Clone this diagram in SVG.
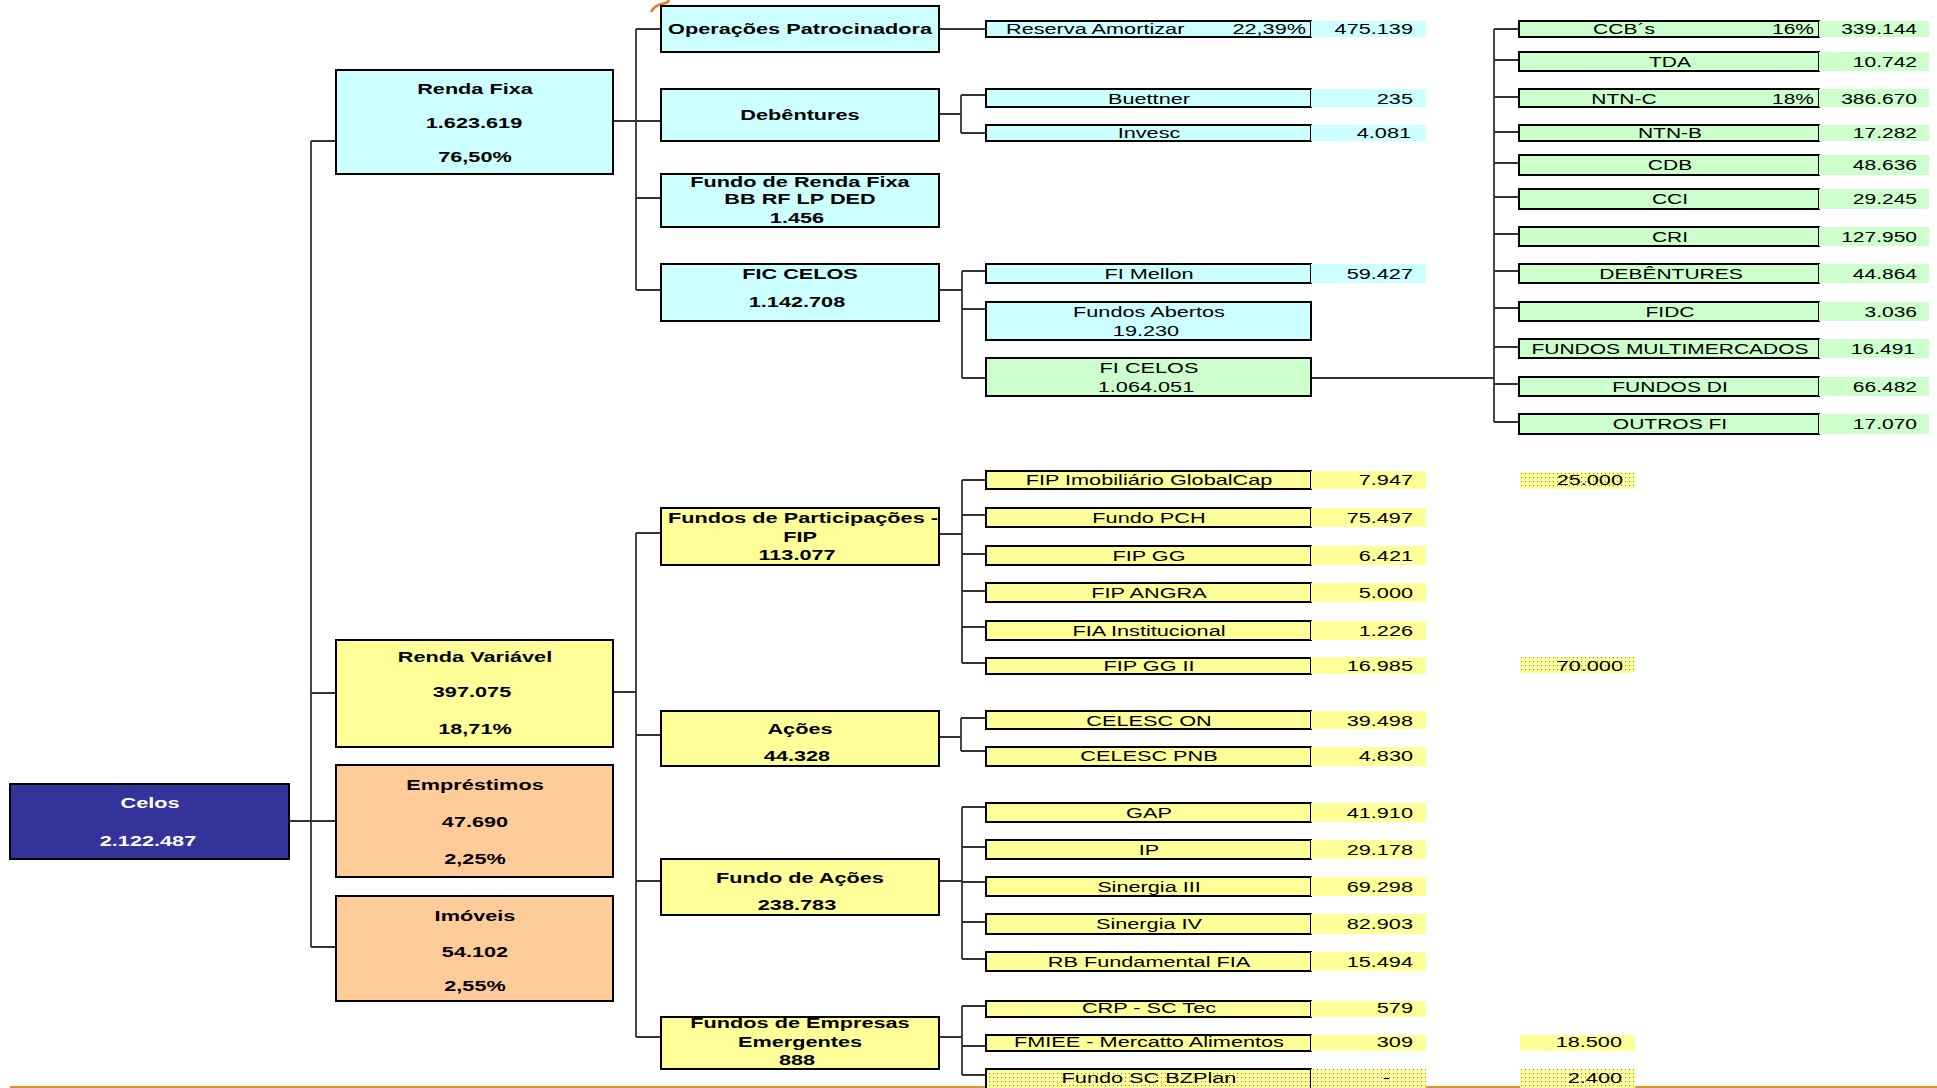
<svg xmlns="http://www.w3.org/2000/svg" width="1937" height="1088" viewBox="0 0 1937 1088">
<style>
.t{font-family:"Liberation Sans",Arial,Helvetica,sans-serif;font-size:15.5px;fill:#000}
.s{font-size:15px}
.b{font-weight:bold}
.m{text-anchor:middle}
.e{text-anchor:end}
.w{fill:#fff}
.bx{stroke:#000;stroke-width:2}
.cy{fill:#CCFFFF}.gr{fill:#CCFFCC}.ye{fill:#FFFF99}.or{fill:#FFCC99}.nv{fill:#333399}
.dt{fill:url(#dots)}
#connectors path{fill:none;stroke:#333;stroke-width:1.8}
</style>
<defs>
<pattern id="dots" width="4" height="4" patternUnits="userSpaceOnUse"><rect width="4" height="4" fill="#FFFF99"/><rect x="1" y="1" width="1" height="1" fill="#777"/></pattern>
</defs>
<rect width="1937" height="1088" fill="#fff"/>

<g id="connectors">
<path d="M289 821H311M311 141V947M311 141H336M311 693H336M311 821H336M311 947H336"/>
<path d="M613 121H636M636 29V290M636 29H661M636 121H661M636 198H661M636 290H661"/>
<path d="M613 692H636M636 533V1037M636 533H661M636 735H661M636 881H661M636 1037H661"/>
<path d="M939 29H986"/>
<path d="M939 114H961M961 95V133M961 95H986M961 133H986"/>
<path d="M939 290H962M962 271V378M962 271H986M962 309H986M962 378H986"/>
<path d="M1311 378H1494M1494 29V422M1494 29H1519M1494 60H1519M1494 97H1519M1494 132H1519M1494 163H1519M1494 197H1519M1494 234H1519M1494 271H1519M1494 308H1519M1494 347H1519M1494 384H1519M1494 422H1519"/>
<path d="M939 534H962M962 480V663M962 480H986M962 515H986M962 554H986M962 591H986M962 627H986M962 663H986"/>
<path d="M939 737H961M961 718V751M961 718H986M961 751H986"/>
<path d="M939 881H962M962 807V959M962 807H986M962 847H986M962 882H986M962 922H986M962 959H986"/>
<path d="M939 1037H962M962 1006V1075M962 1006H986M962 1046H986M962 1075H986"/>
</g>

<path d="M651 12Q655 5 662 4Q668 3 669 0" fill="none" stroke="#F07020" stroke-width="2.5"/>
<path d="M10 1087H1937" stroke="#D9952B" stroke-width="2"/>

<g id="n-celos"><rect class="bx nv" x="10" y="784" width="279" height="75"/>
<text class="t b m w" transform="translate(150 808) scale(1.4 1)">Celos</text>
<text class="t b m w" transform="translate(148 846) scale(1.4 1)">2.122.487</text></g>

<g id="n-rf"><rect class="bx cy" x="336" y="70" width="277" height="104"/>
<text class="t b m" transform="translate(475 94) scale(1.4 1)">Renda Fixa</text>
<text class="t b m" transform="translate(474 128) scale(1.4 1)">1.623.619</text>
<text class="t b m" transform="translate(475 162) scale(1.4 1)">76,50%</text></g>

<g id="n-rv"><rect class="bx ye" x="336" y="640" width="277" height="107"/>
<text class="t b m" transform="translate(475 662) scale(1.4 1)">Renda Variável</text>
<text class="t b m" transform="translate(472 697) scale(1.4 1)">397.075</text>
<text class="t b m" transform="translate(475 734) scale(1.4 1)">18,71%</text></g>

<g id="n-emp"><rect class="bx or" x="336" y="765" width="277" height="112"/>
<text class="t b m" transform="translate(475 790) scale(1.4 1)">Empréstimos</text>
<text class="t b m" transform="translate(475 827) scale(1.4 1)">47.690</text>
<text class="t b m" transform="translate(475 864) scale(1.4 1)">2,25%</text></g>

<g id="n-imo"><rect class="bx or" x="336" y="896" width="277" height="105"/>
<text class="t b m" transform="translate(475 921) scale(1.4 1)">Imóveis</text>
<text class="t b m" transform="translate(475 957) scale(1.4 1)">54.102</text>
<text class="t b m" transform="translate(475 991) scale(1.4 1)">2,55%</text></g>

<g id="n-op"><rect class="bx cy" x="661" y="6" width="278" height="46"/>
<text class="t b m" transform="translate(800 34) scale(1.4 1)">Operações Patrocinadora</text></g>

<g id="n-deb"><rect class="bx cy" x="661" y="89" width="278" height="52"/>
<text class="t b m" transform="translate(800 120) scale(1.4 1)">Debêntures</text></g>

<g id="n-frf"><rect class="bx cy" x="661" y="174" width="278" height="53"/>
<text class="t b m" transform="translate(800 187) scale(1.4 1)">Fundo de Renda Fixa</text>
<text class="t b m" transform="translate(800 204) scale(1.4 1)">BB RF LP DED</text>
<text class="t b m" transform="translate(797 223) scale(1.4 1)">1.456</text></g>

<g id="n-fic"><rect class="bx cy" x="661" y="264" width="278" height="57"/>
<text class="t b m" transform="translate(800 279) scale(1.4 1)">FIC CELOS</text>
<text class="t b m" transform="translate(797 307) scale(1.4 1)">1.142.708</text></g>

<g id="n-fip"><rect class="bx ye" x="661" y="508" width="278" height="57"/>
<text class="t b m" transform="translate(803 523) scale(1.4 1)">Fundos de Participações -</text>
<text class="t b m" transform="translate(800 542) scale(1.4 1)">FIP</text>
<text class="t b m" transform="translate(797 560) scale(1.4 1)">113.077</text></g>

<g id="n-acoes"><rect class="bx ye" x="661" y="711" width="278" height="55"/>
<text class="t b m" transform="translate(800 734) scale(1.4 1)">Ações</text>
<text class="t b m" transform="translate(797 761) scale(1.4 1)">44.328</text></g>

<g id="n-fa"><rect class="bx ye" x="661" y="859" width="278" height="56"/>
<text class="t b m" transform="translate(800 883) scale(1.4 1)">Fundo de Ações</text>
<text class="t b m" transform="translate(797 910) scale(1.4 1)">238.783</text></g>

<g id="n-fe"><rect class="bx ye" x="661" y="1017" width="278" height="52"/>
<text class="t b m" transform="translate(800 1028) scale(1.4 1)">Fundos de Empresas</text>
<text class="t b m" transform="translate(800 1047) scale(1.4 1)">Emergentes</text>
<text class="t b m" transform="translate(797 1065) scale(1.4 1)">888</text></g>

<!-- Level 3 upper -->
<g id="n-reserva"><rect class="bx cy" x="986" y="21" width="325" height="16"/>
<text class="t" transform="translate(1006 34) scale(1.4 1)">Reserva Amortizar</text>
<text class="t e" transform="translate(1306 34) scale(1.4 1)">22,39%</text>
<rect class="cy" x="1311" y="21" width="115" height="16"/>
<text class="t e" transform="translate(1413 34) scale(1.4 1)">475.139</text></g>

<g id="n-buettner"><rect class="bx cy" x="986" y="89" width="325" height="18"/>
<text class="t m" transform="translate(1149 104) scale(1.4 1)">Buettner</text>
<rect class="cy" x="1311" y="89" width="115" height="18"/>
<text class="t e" transform="translate(1413 104) scale(1.4 1)">235</text></g>

<g id="n-invesc"><rect class="bx cy" x="986" y="125" width="325" height="16"/>
<text class="t m" transform="translate(1149 138) scale(1.4 1)">Invesc</text>
<rect class="cy" x="1311" y="125" width="115" height="16"/>
<text class="t e" transform="translate(1411 138) scale(1.4 1)">4.081</text></g>

<g id="n-mellon"><rect class="bx cy" x="986" y="264" width="325" height="19"/>
<text class="t m" transform="translate(1149 279) scale(1.4 1)">FI Mellon</text>
<rect class="cy" x="1311" y="264" width="115" height="19"/>
<text class="t e" transform="translate(1413 279) scale(1.4 1)">59.427</text></g>

<g id="n-abertos"><rect class="bx cy" x="986" y="302" width="325" height="38"/>
<text class="t m" transform="translate(1149 317) scale(1.4 1)">Fundos Abertos</text>
<text class="t m" transform="translate(1146 336) scale(1.4 1)">19.230</text></g>

<g id="n-ficelos"><rect class="bx gr" x="986" y="358" width="325" height="38"/>
<text class="t m" transform="translate(1149 373) scale(1.4 1)">FI CELOS</text>
<text class="t m" transform="translate(1146 392) scale(1.4 1)">1.064.051</text></g>

<!-- Right column -->
<g id="n-ccb"><rect class="bx gr" x="1519" y="21" width="300" height="16"/>
<text class="t s m" transform="translate(1624 34) scale(1.4 1)">CCB´s</text>
<text class="t s e" transform="translate(1814 34) scale(1.4 1)">16%</text>
<rect class="gr" x="1819" y="21" width="110" height="16"/>
<text class="t s e" transform="translate(1917 34) scale(1.4 1)">339.144</text></g>

<g id="n-tda"><rect class="bx gr" x="1519" y="52" width="300" height="19"/>
<text class="t s m" transform="translate(1670 67) scale(1.4 1)">TDA</text>
<rect class="gr" x="1819" y="52" width="110" height="19"/>
<text class="t s e" transform="translate(1917 67) scale(1.4 1)">10.742</text></g>

<g id="n-ntnc"><rect class="bx gr" x="1519" y="89" width="300" height="18"/>
<text class="t s m" transform="translate(1624 104) scale(1.4 1)">NTN-C</text>
<text class="t s e" transform="translate(1814 104) scale(1.4 1)">18%</text>
<rect class="gr" x="1819" y="89" width="110" height="18"/>
<text class="t s e" transform="translate(1917 104) scale(1.4 1)">386.670</text></g>

<g id="n-ntnb"><rect class="bx gr" x="1519" y="125" width="300" height="16"/>
<text class="t s m" transform="translate(1670 138) scale(1.4 1)">NTN-B</text>
<rect class="gr" x="1819" y="125" width="110" height="16"/>
<text class="t s e" transform="translate(1917 138) scale(1.4 1)">17.282</text></g>

<g id="n-cdb"><rect class="bx gr" x="1519" y="155" width="300" height="20"/>
<text class="t s m" transform="translate(1670 170) scale(1.4 1)">CDB</text>
<rect class="gr" x="1819" y="155" width="110" height="20"/>
<text class="t s e" transform="translate(1917 170) scale(1.4 1)">48.636</text></g>

<g id="n-cci"><rect class="bx gr" x="1519" y="189" width="300" height="20"/>
<text class="t s m" transform="translate(1670 204) scale(1.4 1)">CCI</text>
<rect class="gr" x="1819" y="189" width="110" height="20"/>
<text class="t s e" transform="translate(1917 204) scale(1.4 1)">29.245</text></g>

<g id="n-cri"><rect class="bx gr" x="1519" y="227" width="300" height="19"/>
<text class="t s m" transform="translate(1670 242) scale(1.4 1)">CRI</text>
<rect class="gr" x="1819" y="227" width="110" height="19"/>
<text class="t s e" transform="translate(1917 242) scale(1.4 1)">127.950</text></g>

<g id="n-debr"><rect class="bx gr" x="1519" y="264" width="300" height="19"/>
<text class="t s m" transform="translate(1671 279) scale(1.4 1)">DEBÊNTURES</text>
<rect class="gr" x="1819" y="264" width="110" height="19"/>
<text class="t s e" transform="translate(1917 279) scale(1.4 1)">44.864</text></g>

<g id="n-fidc"><rect class="bx gr" x="1519" y="302" width="300" height="19"/>
<text class="t s m" transform="translate(1670 317) scale(1.4 1)">FIDC</text>
<rect class="gr" x="1819" y="302" width="110" height="19"/>
<text class="t s e" transform="translate(1917 317) scale(1.4 1)">3.036</text></g>

<g id="n-fm"><rect class="bx gr" x="1519" y="339" width="300" height="19"/>
<text class="t s m" transform="translate(1670 354) scale(1.4 1)">FUNDOS MULTIMERCADOS</text>
<rect class="gr" x="1819" y="339" width="110" height="19"/>
<text class="t s e" transform="translate(1915 354) scale(1.4 1)">16.491</text></g>

<g id="n-fdi"><rect class="bx gr" x="1519" y="377" width="300" height="19"/>
<text class="t s m" transform="translate(1670 392) scale(1.4 1)">FUNDOS DI</text>
<rect class="gr" x="1819" y="377" width="110" height="19"/>
<text class="t s e" transform="translate(1917 392) scale(1.4 1)">66.482</text></g>

<g id="n-outros"><rect class="bx gr" x="1519" y="414" width="300" height="20"/>
<text class="t s m" transform="translate(1670 429) scale(1.4 1)">OUTROS FI</text>
<rect class="gr" x="1819" y="414" width="110" height="20"/>
<text class="t s e" transform="translate(1917 429) scale(1.4 1)">17.070</text></g>

<!-- Level 3 lower -->
<g id="n-globalcap"><rect class="bx ye" x="986" y="471" width="325" height="18"/>
<text class="t m" transform="translate(1149 485) scale(1.4 1)">FIP Imobiliário GlobalCap</text>
<rect class="ye" x="1311" y="471" width="115" height="18"/>
<text class="t e" transform="translate(1413 485) scale(1.4 1)">7.947</text>
<rect class="dt" x="1520" y="472" width="115" height="17"/>
<text class="t e" transform="translate(1623 485) scale(1.4 1)">25.000</text></g>

<g id="n-pch"><rect class="bx ye" x="986" y="508" width="325" height="19"/>
<text class="t m" transform="translate(1149 523) scale(1.4 1)">Fundo PCH</text>
<rect class="ye" x="1311" y="508" width="115" height="19"/>
<text class="t e" transform="translate(1413 523) scale(1.4 1)">75.497</text></g>

<g id="n-fipgg"><rect class="bx ye" x="986" y="546" width="325" height="19"/>
<text class="t m" transform="translate(1149 561) scale(1.4 1)">FIP GG</text>
<rect class="ye" x="1311" y="546" width="115" height="19"/>
<text class="t e" transform="translate(1413 561) scale(1.4 1)">6.421</text></g>

<g id="n-angra"><rect class="bx ye" x="986" y="583" width="325" height="19"/>
<text class="t m" transform="translate(1149 598) scale(1.4 1)">FIP ANGRA</text>
<rect class="ye" x="1311" y="583" width="115" height="19"/>
<text class="t e" transform="translate(1413 598) scale(1.4 1)">5.000</text></g>

<g id="n-fia"><rect class="bx ye" x="986" y="621" width="325" height="19"/>
<text class="t m" transform="translate(1149 636) scale(1.4 1)">FIA Institucional</text>
<rect class="ye" x="1311" y="621" width="115" height="19"/>
<text class="t e" transform="translate(1413 636) scale(1.4 1)">1.226</text></g>

<g id="n-fipgg2"><rect class="bx ye" x="986" y="658" width="325" height="16"/>
<text class="t m" transform="translate(1149 671) scale(1.4 1)">FIP GG II</text>
<rect class="ye" x="1311" y="657" width="115" height="17"/>
<text class="t e" transform="translate(1413 671) scale(1.4 1)">16.985</text>
<rect class="dt" x="1520" y="657" width="115" height="16"/>
<text class="t e" transform="translate(1623 671) scale(1.4 1)">70.000</text></g>

<g id="n-celon"><rect class="bx ye" x="986" y="711" width="325" height="18"/>
<text class="t m" transform="translate(1149 726) scale(1.4 1)">CELESC ON</text>
<rect class="ye" x="1311" y="711" width="115" height="18"/>
<text class="t e" transform="translate(1413 726) scale(1.4 1)">39.498</text></g>

<g id="n-celpnb"><rect class="bx ye" x="986" y="747" width="325" height="19"/>
<text class="t m" transform="translate(1149 761) scale(1.4 1)">CELESC PNB</text>
<rect class="ye" x="1311" y="747" width="115" height="19"/>
<text class="t e" transform="translate(1413 761) scale(1.4 1)">4.830</text></g>

<g id="n-gap"><rect class="bx ye" x="986" y="803" width="325" height="19"/>
<text class="t m" transform="translate(1149 818) scale(1.4 1)">GAP</text>
<rect class="ye" x="1311" y="803" width="115" height="19"/>
<text class="t e" transform="translate(1413 818) scale(1.4 1)">41.910</text></g>

<g id="n-ip"><rect class="bx ye" x="986" y="840" width="325" height="19"/>
<text class="t m" transform="translate(1149 855) scale(1.4 1)">IP</text>
<rect class="ye" x="1311" y="840" width="115" height="19"/>
<text class="t e" transform="translate(1413 855) scale(1.4 1)">29.178</text></g>

<g id="n-sin3"><rect class="bx ye" x="986" y="877" width="325" height="19"/>
<text class="t m" transform="translate(1149 892) scale(1.4 1)">Sinergia III</text>
<rect class="ye" x="1311" y="877" width="115" height="19"/>
<text class="t e" transform="translate(1413 892) scale(1.4 1)">69.298</text></g>

<g id="n-sin4"><rect class="bx ye" x="986" y="914" width="325" height="20"/>
<text class="t m" transform="translate(1149 929) scale(1.4 1)">Sinergia IV</text>
<rect class="ye" x="1311" y="914" width="115" height="20"/>
<text class="t e" transform="translate(1413 929) scale(1.4 1)">82.903</text></g>

<g id="n-rb"><rect class="bx ye" x="986" y="952" width="325" height="19"/>
<text class="t m" transform="translate(1149 967) scale(1.4 1)">RB Fundamental FIA</text>
<rect class="ye" x="1311" y="952" width="115" height="19"/>
<text class="t e" transform="translate(1413 967) scale(1.4 1)">15.494</text></g>

<g id="n-crp"><rect class="bx ye" x="986" y="1001" width="325" height="16"/>
<text class="t m" transform="translate(1149 1013) scale(1.4 1)">CRP - SC Tec</text>
<rect class="ye" x="1311" y="1001" width="115" height="16"/>
<text class="t e" transform="translate(1413 1013) scale(1.4 1)">579</text></g>

<g id="n-fmiee"><rect class="bx ye" x="986" y="1035" width="325" height="16"/>
<text class="t m" transform="translate(1149 1047) scale(1.4 1)">FMIEE - Mercatto Alimentos</text>
<rect class="ye" x="1311" y="1035" width="115" height="16"/>
<text class="t e" transform="translate(1413 1047) scale(1.4 1)">309</text>
<rect class="ye" x="1520" y="1035" width="115" height="16"/>
<text class="t e" transform="translate(1622 1047) scale(1.4 1)">18.500</text></g>

<g id="n-bzplan"><rect class="bx dt" x="986" y="1069" width="325" height="24"/>
<text class="t m" transform="translate(1149 1083) scale(1.4 1)">Fundo SC BZPlan</text>
<rect class="dt" x="1311" y="1069" width="115" height="20"/>
<text class="t e" transform="translate(1390 1083) scale(1.4 1)">-</text>
<rect class="dt" x="1520" y="1069" width="115" height="20"/>
<text class="t e" transform="translate(1622 1083) scale(1.4 1)">2.400</text></g>
</svg>
